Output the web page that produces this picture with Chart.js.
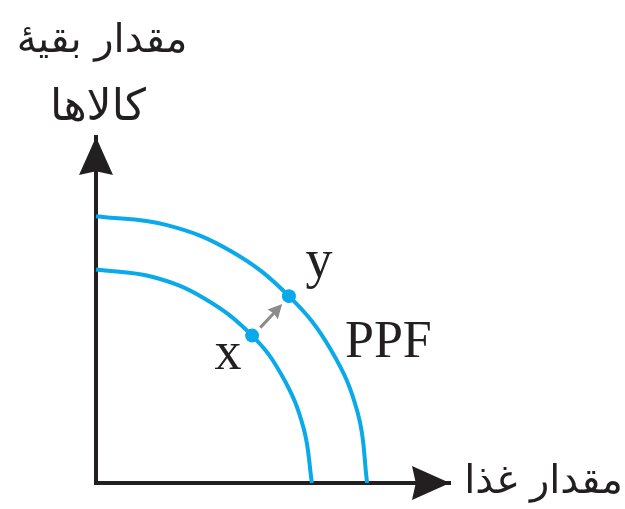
<!DOCTYPE html>
<html>
<head>
<meta charset="utf-8">
<script src="https://cdn.jsdelivr.net/npm/chart.js@4/dist/chart.umd.min.js"></script>
<style>
	html, body { margin: 0; padding: 0; background: #fff; }
	canvas { display: block; }
</style>
</head>
<body>
<canvas id="ppfChart" width="625" height="509"></canvas>
<script>
	// 곡선 데이터
	const outerX = [0, 19.8, 38.3, 54.5, 66.3, 74.0, 76.6];
	const outerY = [77.1, 74.6, 66.9, 54.0, 38.6, 20.0, 0];
	const innerX = [0, 15.8, 30.5, 44.1, 52.6, 58.6, 61.0];
	const innerY = [61.7, 59.6, 53.4, 42.6, 30.9, 16.0, 0];

	// 점 x, y
	const pointLabels = ['x', 'y'];
	const pointX = [44.1, 54.5];
	const pointY = [42.6, 54.0];

	// 회색 화살표 (x -> y)
	const shiftFrom = [46.4, 44.9];
	const shiftTo = [52.6, 51.7];

	const curveLabel = 'PPF';
	const yTitle = ['مقدار بقیهٔ', 'کالاها'];
	const xTitle = 'مقدار غذا';

	const blue = '#0aa9e9';
	const dark = '#231f20';

	let toPoints = function(xs, ys) {
		return xs.map(function(v, i) { return { x: v, y: ys[i] }; });
	};

	let drawHead = function(ctx, tipX, tipY, angle, len, half, color) {
		ctx.save();
		ctx.translate(tipX, tipY);
		ctx.rotate(angle);
		ctx.fillStyle = color;
		ctx.beginPath();
		ctx.moveTo(0, 0);
		ctx.lineTo(-len, -half);
		ctx.lineTo(-len * 0.9, 0);
		ctx.lineTo(-len, half);
		ctx.closePath();
		ctx.fill();
		ctx.restore();
	};

	const decorPlugin = {
		id: 'decor',
		afterDatasetsDraw: function(chart) {
			let ctx = chart.ctx;
			let sx = chart.scales.x;
			let sy = chart.scales.y;
			let area = chart.chartArea;

			// 축 화살표
			drawHead(ctx, area.left, area.top, -Math.PI / 2, 38, 17, dark);
			drawHead(ctx, area.right, area.bottom, 0, 38, 17, dark);

			// x -> y 화살표
			let ax = sx.getPixelForValue(shiftFrom[0]);
			let ay = sy.getPixelForValue(shiftFrom[1]);
			let bx = sx.getPixelForValue(shiftTo[0]);
			let by = sy.getPixelForValue(shiftTo[1]);
			let ang = Math.atan2(by - ay, bx - ax);
			ctx.save();
			ctx.strokeStyle = '#8c8c8c';
			ctx.lineWidth = 3;
			ctx.beginPath();
			ctx.moveTo(ax, ay);
			ctx.lineTo(bx - 10 * Math.cos(ang), by - 10 * Math.sin(ang));
			ctx.stroke();
			ctx.restore();
			drawHead(ctx, bx, by, ang, 14, 7, '#8c8c8c');

			// 점 라벨
			ctx.save();
			ctx.fillStyle = '#231f20';
			ctx.font = '54px "Liberation Serif"';
			ctx.textAlign = 'center';
			ctx.textBaseline = 'alphabetic';
			let px = sx.getPixelForValue(pointX[0]);
			let py = sy.getPixelForValue(pointY[0]);
			ctx.fillText(pointLabels[0], px - 24, py + 33);
			px = sx.getPixelForValue(pointX[1]);
			py = sy.getPixelForValue(pointY[1]);
			ctx.fillText(pointLabels[1], px + 30, py - 19);
			ctx.font = '52px "Liberation Serif"';
			ctx.textAlign = 'left';
			ctx.fillText(curveLabel, 345, 357);
			ctx.restore();

			// 축 제목
			ctx.save();
			ctx.fillStyle = '#231f20';
			ctx.font = '40px "DejaVu Sans"';
			ctx.direction = 'rtl';
			ctx.textAlign = 'center';
			ctx.fillText(yTitle[0], area.left + 6, 52);
			ctx.font = '44px "DejaVu Sans"';
			ctx.fillText(yTitle[1], area.left + 2, 120);
			ctx.font = '40px "DejaVu Sans"';
			ctx.textAlign = 'right';
			ctx.fillText(xTitle, 623, area.bottom + 10);
			ctx.restore();
		}
	};

	let ctx = document.getElementById('ppfChart');
	let ppfChart = new Chart(ctx, {
		type: 'scatter',
		data: {
			datasets: [
				{
					data: toPoints(outerX, outerY),
					showLine: true,
					borderColor: blue,
					borderWidth: 4,
					pointRadius: 0,
					tension: 0.4,
					clip: false
				},
				{
					data: toPoints(innerX, innerY),
					showLine: true,
					borderColor: blue,
					borderWidth: 4,
					pointRadius: 0,
					tension: 0.4,
					clip: false
				},
				{
					data: toPoints(pointX, pointY),
					showLine: false,
					pointRadius: 7,
					pointBackgroundColor: blue,
					pointBorderWidth: 0,
					clip: false
				}
			]
		},
		options: {
			responsive: false,
			animation: false,
			events: [],
			layout: {
				padding: { left: 96, right: 175, top: 137, bottom: 26 }
			},
			plugins: {
				legend: { display: false },
				tooltip: { enabled: false }
			},
			scales: {
				x: {
					type: 'linear',
					min: 0,
					max: 100,
					ticks: { display: false },
					grid: { display: false, drawTicks: false },
					border: { display: true, color: dark, width: 4 }
				},
				y: {
					type: 'linear',
					min: 0,
					max: 100,
					ticks: { display: false },
					grid: { display: false, drawTicks: false },
					border: { display: true, color: dark, width: 4 }
				}
			}
		},
		plugins: [decorPlugin]
	});
</script>
</body>
</html>
